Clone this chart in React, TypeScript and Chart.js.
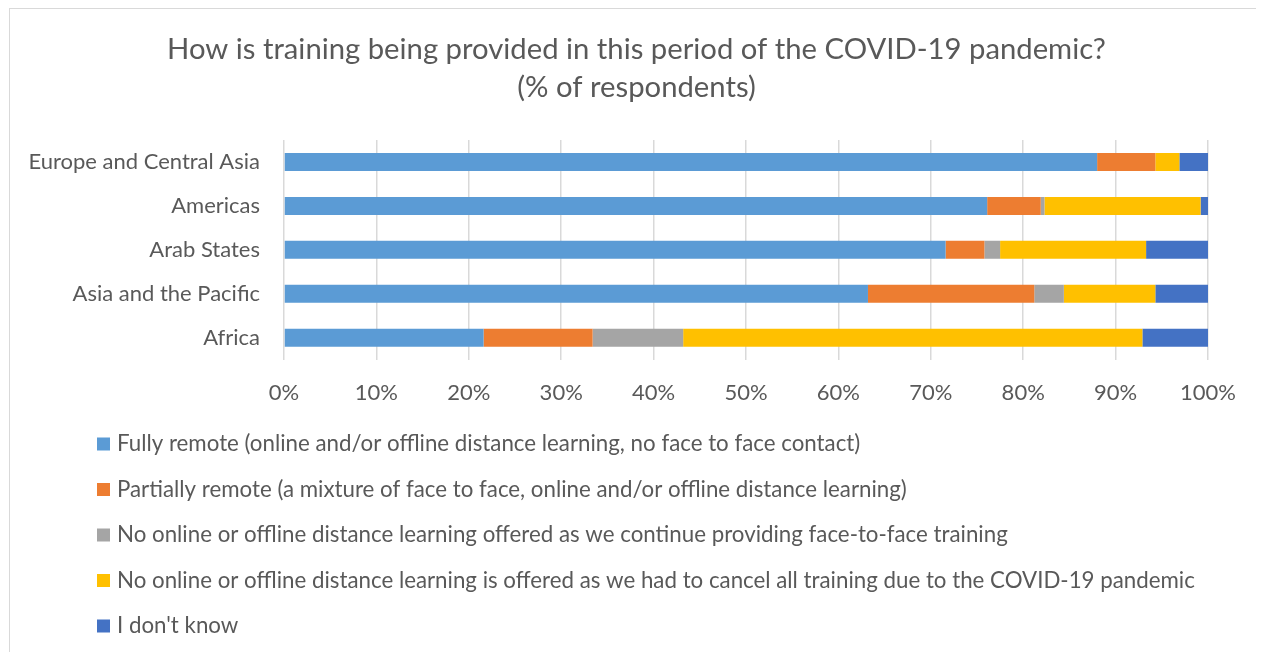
import { useEffect, useRef } from "react";
import { Chart, registerables } from "chart.js";

Chart.register(...registerables);

const categories = [
  "Europe and Central Asia",
  "Americas",
  "Arab States",
  "Asia and the Pacific",
  "Africa",
];
const fullyRemote = [88.0, 76.1, 71.6, 63.2, 21.6];
const partiallyRemote = [6.3, 5.8, 4.2, 18.0, 11.8];
const faceToFaceOnly = [0, 0.4, 1.7, 3.2, 9.8];
const cancelledAll = [2.6, 16.9, 15.8, 9.9, 49.7];
const dontKnow = [3.1, 0.8, 6.7, 5.7, 7.1];

const seriesLabels = [
  "Fully remote (online and/or offline distance learning, no face to face contact)",
  "Partially remote (a mixture of face to face, online and/or offline distance learning)",
  "No online or offline distance learning offered as we continue providing face-to-face training",
  "No online or offline distance learning is offered as we had to cancel all training due to the COVID-19 pandemic",
  "I don't know",
];
const seriesValues = [fullyRemote, partiallyRemote, faceToFaceOnly, cancelledAll, dontKnow];
const seriesColors = ["#5B9BD5", "#ED7D31", "#A5A5A5", "#FFC000", "#4472C4"];

const titleLines = [
  "How is training being provided in this period of the COVID-19 pandemic?",
  "(% of respondents)",
];
const xMin = 0;
const xMax = 100;
const xStep = 10;

const FONT = "Lato";
const TEXT = "#595959";
const LABEL_SIZE = 22;
const LEGEND_SIZE = 22.3;

const centerTitlePlugin = {
  id: "centerTitle",
  afterLayout(chart: any) {
    const t = chart.titleBlock;
    if (t) {
      t.left = 0;
      t.right = chart.width;
      t.width = chart.width;
    }
  },
};

const legendPlugin = {
  id: "rowLegend",
  afterDraw(chart: any) {
    const ctx = chart.ctx;
    ctx.save();
    ctx.font = `${LEGEND_SIZE}px ${FONT}`;
    ctx.textBaseline = "middle";
    ctx.textAlign = "left";
    const firstY = 435;
    const rowGap = 45.5;
    chart.data.datasets.forEach((ds: any, i: number) => {
      const y = firstY + i * rowGap;
      ctx.fillStyle = ds.backgroundColor;
      ctx.fillRect(87, y - 6.5, 13, 13);
      ctx.fillStyle = TEXT;
      ctx.fillText(ds.label, 107, y);
    });
    ctx.restore();
  },
};

export default function App() {
  const ref = useRef<HTMLCanvasElement>(null);

  useEffect(() => {
    document.body.style.overflow = "hidden";
    const chart = new Chart(ref.current!, {
      type: "bar",
      data: {
        labels: categories,
        datasets: seriesLabels.map((label, i) => ({
          label,
          data: seriesValues[i],
          backgroundColor: seriesColors[i],
          borderWidth: 0,
          barPercentage: 0.82,
          categoryPercentage: 0.5,
        })),
      },
      options: {
        indexAxis: "y",
        responsive: false,
        animation: false,
        layout: { padding: { left: 18, right: 55, top: 0, bottom: 226 } },
        plugins: {
          legend: { display: false },
          tooltip: { enabled: false },
          title: {
            display: true,
            text: titleLines,
            color: TEXT,
            font: { family: FONT, size: 29.25, weight: "normal", lineHeight: 38 / 29.25 },
            padding: { top: 22, bottom: 33 },
          },
        },
        scales: {
          x: {
            stacked: true,
            min: xMin,
            max: xMax,
            ticks: {
              stepSize: xStep,
              color: TEXT,
              padding: 20,
              font: { family: FONT, size: LABEL_SIZE },
              callback: (v: any) => `${v}%`,
            },
            grid: { color: "#d9d9d9", lineWidth: 1.5, drawTicks: false },
            border: { display: false },
          },
          y: {
            stacked: true,
            ticks: {
              color: TEXT,
              padding: 24,
              font: { family: FONT, size: LABEL_SIZE },
            },
            grid: { display: false, drawTicks: false },
            border: { display: false },
            afterFit: (scale: any) => {
              scale.width = 256;
            },
          },
        },
      },
      plugins: [centerTitlePlugin, legendPlugin],
    });
    return () => chart.destroy();
  }, []);

  return (
    <div
      style={{
        marginLeft: 1,
        width: 1253,
        height: 643,
        border: "1px solid #d9d9d9",
        borderBottom: "none",
        background: "#fff",
      }}
    >
      <canvas ref={ref} width={1253} height={643} style={{ display: "block" }} />
    </div>
  );
}
